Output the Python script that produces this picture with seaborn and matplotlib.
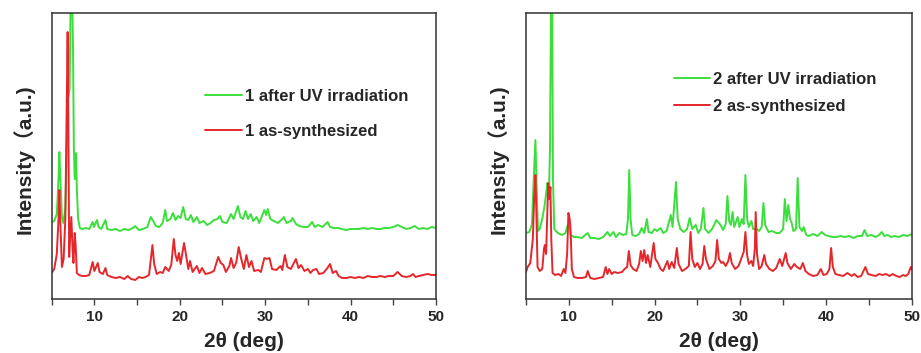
import matplotlib
matplotlib.use("Agg")
import matplotlib.pyplot as plt
from matplotlib.ticker import MultipleLocator
import seaborn as sns
import pandas as pd

# ---- Powder XRD patterns (2θ in degrees, intensity in arbitrary units) ----
theta_1_uv = [5.0, 5.3, 5.6, 5.8, 5.9, 6.0, 6.2, 6.35, 6.6, 6.9, 7.1, 7.25, 7.35, 7.5, 7.6, 7.7,
              7.85, 7.95, 8.1, 8.3, 8.6, 9.0, 9.4, 9.8, 9.95, 10.3, 10.5, 10.8, 11.3, 11.5, 12.0,
              12.5, 13.0, 13.5, 14.0, 14.5, 14.8, 15.2, 15.7, 16.2, 16.6, 16.9, 17.2, 17.6, 18.0,
              18.3, 18.5, 18.9, 19.2, 19.5, 19.8, 20.1, 20.4, 20.7, 21.0, 21.3, 21.6, 22.0, 22.3,
              22.8, 23.2, 23.6, 24.0, 24.4, 24.7, 25.0, 25.5, 26.0, 26.3, 26.8, 27.1, 27.4, 27.7,
              28.0, 28.3, 28.6, 29.0, 29.3, 29.9, 30.1, 30.3, 30.6, 31.0, 31.5, 32.0, 32.2, 32.5,
              33.0, 33.2, 33.6, 34.0, 34.5, 35.0, 35.5, 35.8, 36.2, 36.7, 37.3, 37.6, 38.0, 38.5,
              39.0, 39.5, 40.0, 40.5, 41.0, 41.5, 42.0, 42.5, 43.0, 43.5, 44.0, 44.5, 45.0, 45.5,
              46.0, 46.5, 47.0, 47.5, 48.0, 48.5, 49.0, 49.5, 50.0]
int_1_uv = [77, 78, 85, 120, 147, 125, 82, 76, 90, 200, 210, 320, 330, 250, 150, 120,
            146, 110, 80, 71, 70, 71, 70, 77, 72, 79, 72, 70, 79, 70, 69,
            70, 68, 70, 69, 71, 73, 69, 70, 72, 82, 78, 73, 72, 76,
            89, 78, 80, 86, 79, 83, 81, 92, 80, 79, 84, 77, 82, 76,
            78, 74, 76, 79, 80, 83, 77, 76, 85, 80, 93, 82, 80, 88,
            80, 85, 78, 82, 76, 89, 84, 90, 80, 78, 76, 80, 82, 76,
            78, 81, 75, 73, 72, 72, 77, 72, 74, 72, 77, 72, 71, 71,
            70, 69, 70, 70, 70, 71, 70, 71, 70, 70, 71, 71, 72, 74,
            72, 70, 71, 73, 70, 71, 70, 72, 71]

theta_1_as = [5.0, 5.3, 5.6, 5.8, 5.9, 6.0, 6.2, 6.4, 6.6, 6.75, 6.87, 6.95, 7.05, 7.15, 7.3, 7.45,
              7.55, 7.7, 7.8, 7.95, 8.2, 8.6, 9.0, 9.4, 9.8, 10.0, 10.4, 10.6, 11.0, 11.3, 11.5,
              12.0, 12.5, 13.0, 13.5, 13.9, 14.3, 14.8, 15.2, 15.6, 16.0, 16.4, 16.8, 17.0, 17.3,
              17.7, 18.0, 18.3, 18.7, 19.0, 19.3, 19.5, 19.7, 19.9, 20.1, 20.5, 20.8, 21.0, 21.2,
              21.5, 22.0, 22.3, 22.6, 23.0, 23.5, 24.0, 24.5, 24.8, 25.1, 25.4, 25.8, 26.0, 26.3,
              26.6, 26.9, 27.2, 27.5, 27.8, 28.1, 28.4, 28.7, 29.2, 29.5, 29.9, 30.2, 30.5, 30.8,
              31.3, 31.8, 32.0, 32.3, 32.6, 33.0, 33.3, 33.6, 33.9, 34.2, 34.6, 35.0, 35.3, 35.6,
              36.0, 36.3, 36.8, 37.2, 37.6, 37.9, 38.3, 38.6, 39.0, 39.5, 40.0, 40.5, 41.0, 41.5,
              42.0, 42.5, 43.0, 43.5, 44.0, 44.5, 45.0, 45.5, 46.0, 46.5, 47.0, 47.3, 47.6, 48.0,
              48.5, 49.0, 49.5, 50.0]
int_1_as = [26, 30, 45, 80, 109, 80, 32, 40, 80, 180, 267, 180, 42, 60, 82, 50,
            36, 66, 55, 26, 24, 23, 23, 24, 37, 28, 36, 27, 25, 31, 24,
            22, 21, 22, 20, 23, 20, 19, 22, 21, 22, 24, 54, 35, 25,
            27, 26, 32, 28, 34, 60, 44, 38, 46, 35, 56, 40, 30, 38,
            27, 33, 26, 31, 25, 26, 28, 42, 36, 34, 27, 33, 41, 31,
            36, 52, 40, 30, 44, 32, 38, 28, 29, 27, 41, 40, 41, 30,
            29, 33, 29, 44, 32, 30, 35, 40, 31, 34, 28, 30, 26, 29,
            30, 25, 26, 30, 35, 26, 28, 23, 21, 21, 22, 21, 22, 21,
            23, 22, 22, 23, 22, 23, 23, 27, 23, 22, 23, 25, 22, 23,
            24, 25, 24, 24]

theta_2_uv = [5.0, 5.4, 5.7, 5.9, 6.1, 6.25, 6.4, 6.6, 6.9, 7.2, 7.5, 7.6, 7.7, 7.8, 7.95, 8.05,
              8.15, 8.3, 8.7, 9.2, 9.6, 9.95, 10.2, 10.6, 11.0, 11.5, 12.2, 12.5, 13.0, 13.5, 14.0,
              14.5, 14.8, 15.2, 15.5, 15.9, 16.3, 16.7, 16.9, 17.05, 17.2, 17.4, 17.8, 18.2, 18.5,
              18.8, 19.1, 19.3, 19.7, 20.0, 20.3, 20.7, 21.0, 21.4, 21.9, 22.1, 22.5, 22.7, 23.0,
              23.4, 23.8, 24.1, 24.4, 24.8, 25.1, 25.4, 25.7, 25.9, 26.3, 26.7, 27.0, 27.2, 27.5,
              27.7, 28.0, 28.3, 28.5, 28.7, 28.9, 29.1, 29.3, 29.7, 29.9, 30.2, 30.4, 30.6, 30.8,
              31.0, 31.3, 31.5, 31.9, 32.2, 32.5, 32.7, 32.9, 33.3, 33.7, 34.2, 34.6, 35.0, 35.2,
              35.4, 35.6, 35.8, 36.0, 36.2, 36.5, 36.7, 36.9, 37.2, 37.4, 37.7, 38.0, 38.5, 39.0,
              39.5, 39.9, 40.3, 40.8, 41.2, 41.7, 42.2, 42.7, 43.2, 43.7, 44.2, 44.5, 44.8, 45.3,
              45.8, 46.2, 46.5, 46.8, 47.2, 47.6, 48.0, 48.5, 49.0, 49.5, 50.0]
int_2_uv = [66, 67, 75, 120, 159, 110, 68, 70, 80, 95, 116, 110, 112, 150, 330, 300,
            120, 70, 66, 64, 66, 76, 64, 62, 62, 61, 66, 61, 61, 60, 62,
            67, 63, 67, 62, 66, 64, 65, 80, 129, 80, 64, 63, 65, 71,
            66, 80, 67, 66, 70, 68, 71, 66, 68, 84, 72, 117, 80, 70,
            67, 70, 81, 70, 74, 66, 70, 91, 70, 66, 70, 75, 79, 76,
            74, 69, 75, 103, 78, 74, 87, 72, 82, 72, 80, 75, 124, 80,
            72, 78, 70, 70, 68, 72, 96, 74, 67, 68, 66, 66, 70, 100,
            78, 94, 80, 76, 68, 70, 121, 72, 68, 72, 64, 63, 65, 63,
            67, 64, 63, 62, 62, 63, 62, 63, 61, 63, 63, 69, 63, 64,
            62, 64, 67, 63, 64, 62, 63, 62, 64, 63, 65]

theta_2_as = [5.0, 5.2, 5.5, 5.8, 5.95, 6.1, 6.2, 6.35, 6.6, 6.9, 7.1, 7.2, 7.35, 7.5, 7.6, 7.75,
              7.85, 7.95, 8.1, 8.4, 8.8, 9.1, 9.4, 9.6, 9.8, 9.95, 10.1, 10.2, 10.35, 10.6, 11.0,
              11.5, 12.0, 12.2, 12.5, 13.0, 13.5, 14.0, 14.3, 14.5, 14.7, 15.0, 15.3, 15.7, 16.2,
              16.5, 16.8, 17.0, 17.2, 17.5, 17.9, 18.2, 18.4, 18.6, 18.8, 19.0, 19.2, 19.5, 19.9,
              20.1, 20.4, 20.7, 21.0, 21.5, 21.7, 22.0, 22.3, 22.6, 22.8, 23.2, 23.6, 24.0, 24.2,
              24.4, 24.7, 25.0, 25.3, 25.6, 25.8, 26.0, 26.4, 26.8, 27.1, 27.3, 27.5, 27.8, 28.0,
              28.3, 28.6, 28.8, 29.0, 29.4, 29.8, 30.1, 30.4, 30.6, 30.8, 31.0, 31.3, 31.5, 31.7,
              31.8, 31.95, 32.2, 32.5, 32.8, 33.0, 33.4, 33.8, 34.2, 34.6, 34.9, 35.3, 35.5, 35.9,
              36.3, 36.6, 37.0, 37.3, 37.6, 38.0, 38.5, 39.0, 39.4, 39.7, 40.1, 40.4, 40.6, 40.8,
              41.1, 41.5, 42.0, 42.5, 43.0, 43.3, 43.7, 44.1, 44.6, 44.9, 45.3, 45.8, 46.2, 46.6,
              47.0, 47.4, 47.8, 48.2, 48.6, 49.0, 49.3, 49.6, 49.9, 50.0]
int_2_as = [27, 32, 36, 60, 100, 124, 90, 32, 28, 30, 50, 54, 45, 90, 116, 100,
            112, 60, 26, 24, 25, 23, 30, 26, 45, 86, 80, 70, 30, 22, 21,
            21, 22, 28, 21, 20, 21, 22, 32, 25, 30, 25, 27, 26, 27,
            30, 32, 48, 34, 30, 28, 35, 48, 38, 49, 36, 44, 32, 56,
            40, 36, 30, 28, 38, 30, 37, 31, 51, 35, 28, 30, 33, 67,
            40, 32, 36, 30, 35, 53, 40, 30, 33, 38, 59, 40, 36, 37,
            33, 38, 46, 36, 30, 33, 40, 47, 67, 44, 35, 38, 33, 50,
            87, 45, 30, 33, 44, 35, 30, 28, 31, 40, 33, 46, 36, 30,
            35, 32, 30, 36, 28, 25, 23, 24, 30, 24, 25, 30, 51, 32,
            25, 24, 23, 26, 23, 25, 22, 23, 32, 25, 24, 23, 25, 24,
            25, 23, 25, 23, 22, 24, 23, 25, 32, 30]

labels_1 = ["1 after UV irradiation", "1 as-synthesized"]
labels_2 = ["2 after UV irradiation", "2 as-synthesized"]
x_ticks = [10, 20, 30, 40, 50]

GREEN = "#3bdf3b"
RED = "#e5262b"
LABEL_FONTS = ["Liberation Sans", "Noto Sans CJK SC", "DejaVu Sans"]

sns.set_style("ticks")
plt.rcParams["font.family"] = ["Liberation Sans", "Noto Sans CJK SC", "DejaVu Sans"]
plt.rcParams["font.weight"] = "bold"

fig = plt.figure(figsize=(9.21, 3.53), dpi=100)
ax1 = fig.add_axes([0.0561, 0.153, 0.4173, 0.810])
ax2 = fig.add_axes([0.5711, 0.153, 0.4188, 0.810])

panels = [
    (ax1, theta_1_uv, int_1_uv, theta_1_as, int_1_as, labels_1, (0.400, 0.735), 1.2),
    (ax2, theta_2_uv, int_2_uv, theta_2_as, int_2_as, labels_2, (0.383, 0.795), 0.72),
]

for ax, tg, ig, tr, ir, labels, anchor, spacing in panels:
    df_g = pd.DataFrame({"theta": tg, "intensity": ig})
    df_r = pd.DataFrame({"theta": tr, "intensity": ir})
    sns.lineplot(data=df_g, x="theta", y="intensity", color=GREEN, lw=1.4,
                 label=labels[0], ax=ax, sort=False)
    sns.lineplot(data=df_r, x="theta", y="intensity", color=RED, lw=1.4,
                 label=labels[1], ax=ax, sort=False)
    ax.set_xlim(5, 50)
    ax.set_ylim(0, 286)
    ax.set_xticks(x_ticks)
    ax.xaxis.set_minor_locator(MultipleLocator(5))
    ax.set_yticks([])
    ax.tick_params(axis="x", which="both", direction="out", length=4, width=1,
                   color="#444444", pad=4, labelsize=11)
    for lab in ax.get_xticklabels():
        lab.set_fontweight("bold")
    for sp in ax.spines.values():
        sp.set_visible(True)
        sp.set_color("#333333")
        sp.set_linewidth(1.1)
    ax.set_xlabel("2θ (deg)", fontsize=15, fontweight="bold")
    ax.set_ylabel("Intensity（a.u.)", fontsize=15, fontweight="bold",
                  family=LABEL_FONTS)
    ax.xaxis.set_label_coords(0.5, -0.115)
    ax.yaxis.set_label_coords(-0.045, 0.49)
    leg = ax.legend(loc="upper left", bbox_to_anchor=anchor, frameon=False,
                    fontsize=12, handlelength=2.2, handletextpad=0.15,
                    labelspacing=spacing, borderaxespad=0, borderpad=0)
    for t in leg.get_texts():
        t.set_fontweight("bold")

fig.savefig("out.png", dpi=100)
